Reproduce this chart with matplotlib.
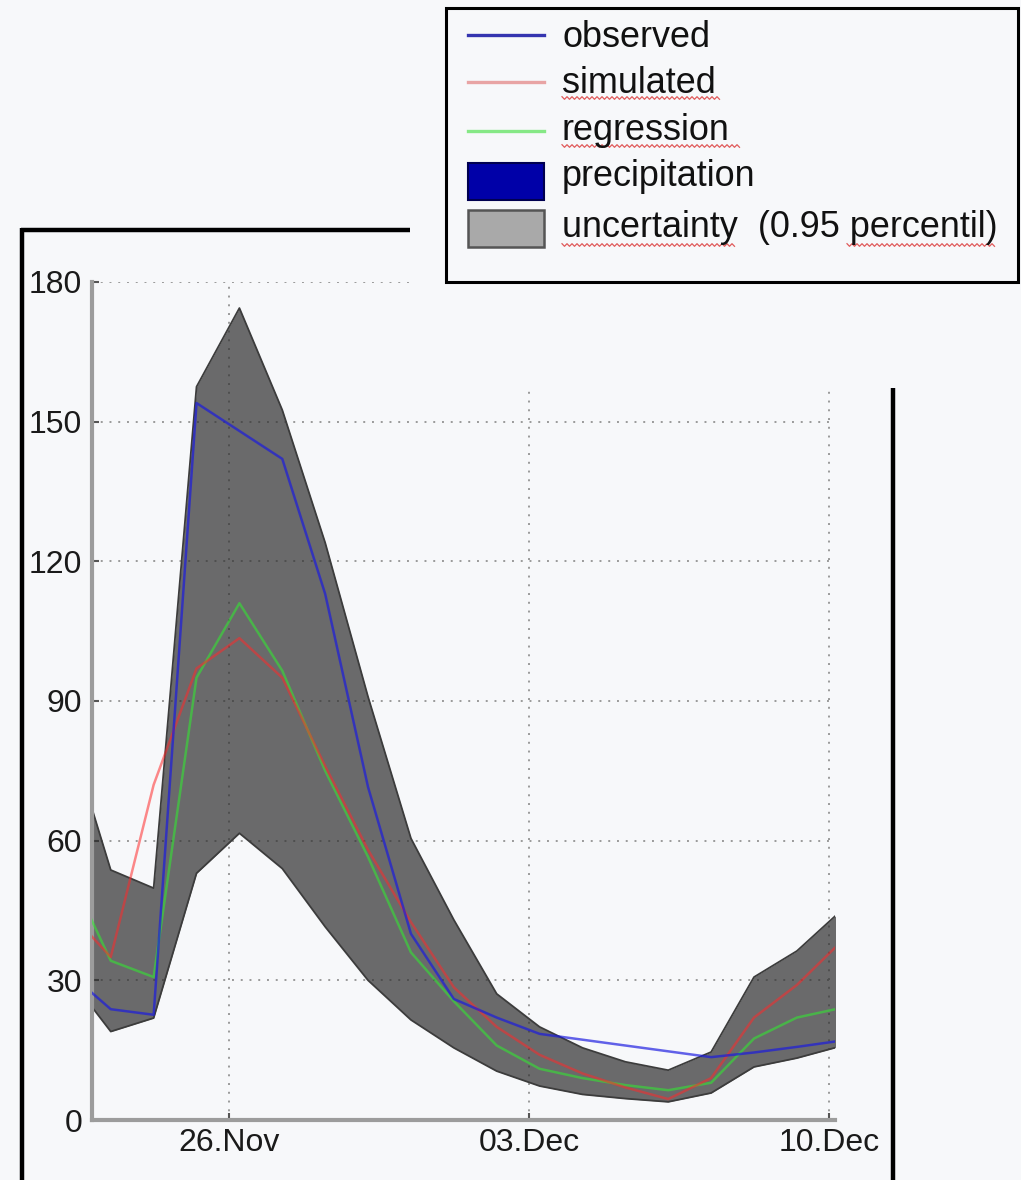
import numpy as np
import pandas as pd
import matplotlib
matplotlib.use("Agg")
import matplotlib.pyplot as plt
import matplotlib.dates as mdates
from matplotlib.lines import Line2D
from matplotlib.patches import Rectangle

plt.rcParams['font.family'] = ['Liberation Sans', 'DejaVu Sans']

# ---- data ---------------------------------------------------------------
dates = pd.date_range("2010-11-22 06:00", periods=19, freq="D")

band_upper = [83.8, 53.7, 49.8, 157.5, 174.4, 152.5, 124.0, 90.9, 60.5, 43.0,
              27.1, 20.0, 15.5, 12.5, 10.7, 14.6, 30.7, 36.3, 44.7]
band_lower = [31.0, 19.0, 21.9, 53.0, 61.6, 54.0, 41.5, 30.0, 21.5, 15.5,
              10.5, 7.3, 5.5, 4.6, 3.9, 5.8, 11.4, 13.3, 15.8]
simulated = [45.0, 35.0, 72.0, 97.0, 103.5, 95.0, 76.0, 58.0, 42.5, 28.5,
             20.0, 14.0, 10.0, 7.0, 4.5, 9.0, 22.0, 29.0, 38.0]
regression = [53.8, 34.2, 30.7, 95.0, 111.0, 96.5, 75.0, 56.5, 36.0, 25.5,
              16.0, 11.0, 9.0, 7.5, 6.4, 8.0, 17.5, 22.0, 24.0]

# observed series has a gap (4.-6. Dec)
obs_dates = dates[[0, 1, 2, 3, 4, 5, 6, 7, 8, 9, 10, 11, 15, 16, 17, 18]]
observed = [31.8, 23.8, 22.6, 154.0, 148.0, 142.0, 113.0, 71.5, 40.0, 26.0,
            22.0, 18.5, 13.5, 14.5, 15.7, 17.0]

tick_dates = pd.to_datetime(["2010-11-26", "2010-12-03", "2010-12-10"])
x_limits = pd.to_datetime(["2010-11-22 19:30", "2010-12-10 03:20"])
y_ticks = [0, 30, 60, 90, 120, 150, 180]

legend_labels = ["observed", "simulated", "regression", "precipitation",
                 "uncertainty  (0.95 percentil)"]

# ---- style --------------------------------------------------------------
BG = "#f7f8fa"
BLUE = "#1a1ae0"
RED = "#ff2a2a"
GREEN = "#2ef02e"
BAND = "#303030"

W, H = 1021, 1180
fig = plt.figure(figsize=(W / 100, H / 100), dpi=100, facecolor=BG)


def fx(px):
    return px / W


def fy(py):
    return 1 - py / H


ax = fig.add_axes([fx(92), fy(1120), fx(835) - fx(92), fy(282) - fy(1120)])
ax.set_facecolor(BG)

# uncertainty band
ax.fill_between(dates, band_lower, band_upper, color=BAND, alpha=0.71,
                lw=0, zorder=2)
ax.plot(dates, band_upper, color="#3c3c3c", lw=1.3, zorder=2.1)
ax.plot(dates, band_lower, color="#3c3c3c", lw=1.3, zorder=2.1)

# series
ax.plot(dates, regression, color=GREEN, lw=1.8, alpha=0.55, zorder=3)
ax.plot(dates, simulated, color=RED, lw=1.8, alpha=0.55, zorder=3.1)
ax.plot(obs_dates, observed, color=BLUE, lw=1.8, alpha=0.68, zorder=3.2)

ax.set_xlim(x_limits[0], x_limits[1])
ax.set_ylim(0, 180)
ax.set_yticks(y_ticks)
ax.set_xticks(tick_dates)
ax.xaxis.set_major_formatter(mdates.DateFormatter("%d.%b"))

ax.grid(True, color="#9a9a9a", lw=1.4, linestyle=(0, (1, 3.5)), zorder=1)
ax.set_axisbelow(True)
for s in ("top", "right"):
    ax.spines[s].set_visible(False)
for s in ("left", "bottom"):
    ax.spines[s].set_color("#9c9c9c")
    ax.spines[s].set_linewidth(3)
ax.tick_params(direction="in", length=5, width=1.5, color="#555555",
               labelsize=23, labelcolor="#1a1a1a")
ax.tick_params(axis="y", pad=7)
ax.tick_params(axis="x", pad=6)

# outer frame
frame_kw = dict(color="black", lw=3.2, solid_capstyle="butt", zorder=1)
fig.add_artist(Line2D([fx(22), fx(22)], [fy(228), 0], **frame_kw))
fig.add_artist(Line2D([fx(20.5), fx(410)], [fy(230), fy(230)], **frame_kw))
fig.add_artist(Line2D([fx(893), fx(893)], [fy(388), 0], **frame_kw))

# panel behind legend
fig.add_artist(Rectangle((fx(410), fy(388)), 1 - fx(410), 1 - fy(388),
                         transform=fig.transFigure, facecolor=BG,
                         edgecolor="none", zorder=2))

# legend
fig.add_artist(Rectangle((fx(446), fy(282)), fx(1018) - fx(446),
                         fy(8) - fy(282), transform=fig.transFigure,
                         facecolor=BG, edgecolor="black", lw=2.2, zorder=3))
handle_colors = ["#3535b0", "#e8a4a4", "#86e886"]
handle_y = [35, 82, 131]
for c, y in zip(handle_colors, handle_y):
    fig.add_artist(Line2D([fx(468), fx(544)], [fy(y), fy(y)], color=c,
                          lw=2.4, zorder=4))
fig.add_artist(Rectangle((fx(468), fy(200)), fx(544) - fx(468),
                         fy(163) - fy(200), transform=fig.transFigure,
                         facecolor="#0000a8", edgecolor="#000050", lw=1.5,
                         zorder=4))
fig.add_artist(Rectangle((fx(468), fy(247)), fx(544) - fx(468),
                         fy(210) - fy(247), transform=fig.transFigure,
                         facecolor="#a9a9a9", edgecolor="#555555", lw=1.8,
                         zorder=4))
text_base = [47, 93, 140, 186, 237]
for lab, y in zip(legend_labels, text_base):
    fig.text(fx(562), fy(y), lab, fontsize=25.9, color="#111111",
             va="baseline", ha="left", zorder=5)


# spell-check style wavy underlines
def wavy(x0, x1, y):
    xs = np.arange(x0, x1, 2.5)
    ys = y + np.where(np.arange(len(xs)) % 2 == 0, -1.3, 1.3)
    fig.add_artist(Line2D(fx(xs), fy(ys), color="#e05a5a", lw=0.9,
                          zorder=5))


wavy(562, 721, 98)
wavy(562, 740, 146)
wavy(562, 736, 245)
wavy(847, 995, 245)

fig.savefig("out.png", dpi=100, facecolor=BG)
